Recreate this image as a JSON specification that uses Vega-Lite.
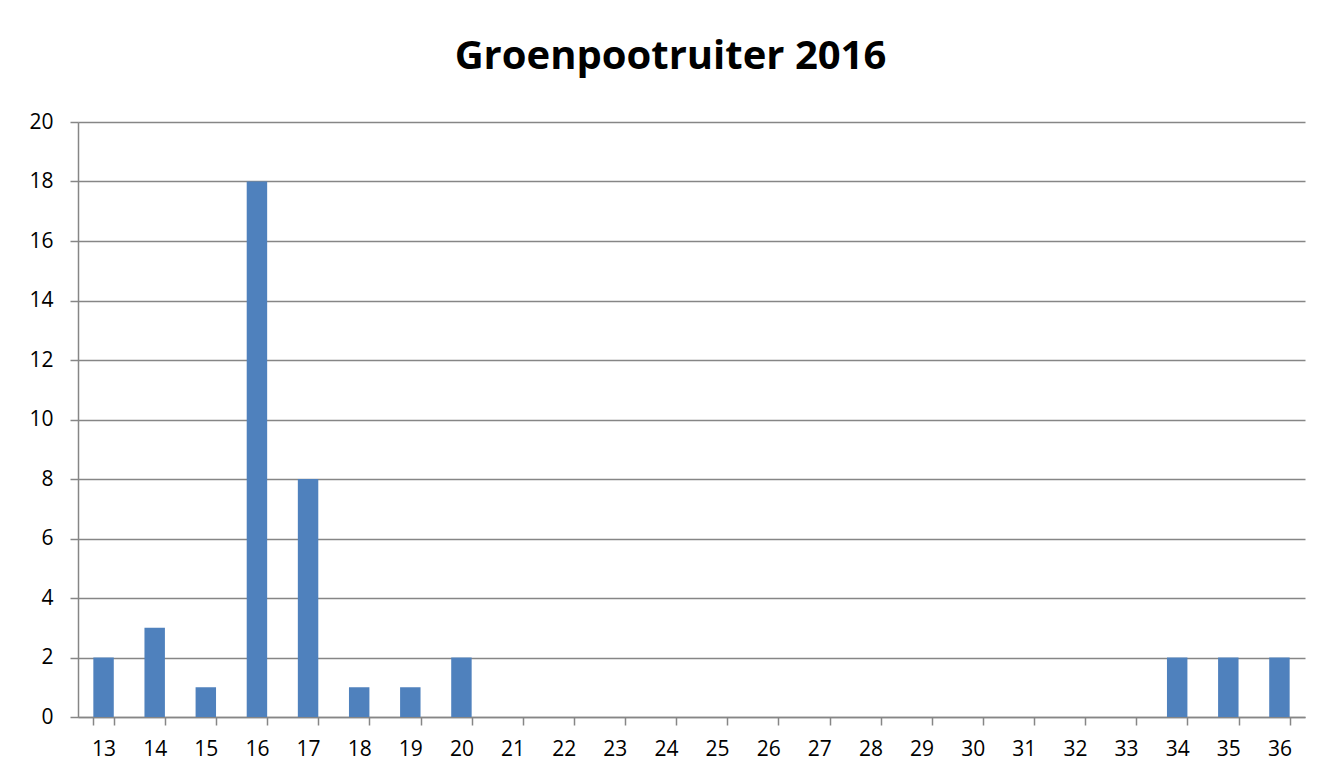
{
  "$schema": "https://vega.github.io/schema/vega-lite/v6.json",
  "width": 1227,
  "height": 595,
  "autosize": {"type": "none"},
  "padding": {"left": 78, "top": 122, "right": 17, "bottom": 61},
  "background": "white",
  "title": {
    "text": "Groenpootruiter 2016",
    "font": "Open Sans",
    "fontSize": 40,
    "fontWeight": "bold",
    "color": "#000000",
    "anchor": "middle",
    "baseline": "alphabetic",
    "offset": 2,
    "dx": -21
  },
  "data": {
    "values": [
      {"week": "13", "count": 2},
      {"week": "14", "count": 3},
      {"week": "15", "count": 1},
      {"week": "16", "count": 18},
      {"week": "17", "count": 8},
      {"week": "18", "count": 1},
      {"week": "19", "count": 1},
      {"week": "20", "count": 2},
      {"week": "21", "count": 0},
      {"week": "22", "count": 0},
      {"week": "23", "count": 0},
      {"week": "24", "count": 0},
      {"week": "25", "count": 0},
      {"week": "26", "count": 0},
      {"week": "27", "count": 0},
      {"week": "28", "count": 0},
      {"week": "29", "count": 0},
      {"week": "30", "count": 0},
      {"week": "31", "count": 0},
      {"week": "32", "count": 0},
      {"week": "33", "count": 0},
      {"week": "34", "count": 2},
      {"week": "35", "count": 2},
      {"week": "36", "count": 2}
    ]
  },
  "mark": {"type": "bar", "color": "#4F81BD"},
  "encoding": {
    "x": {
      "field": "week",
      "type": "ordinal",
      "sort": null,
      "scale": {"paddingInner": 0.6, "paddingOuter": 0.3},
      "axis": {
        "title": null,
        "labelAngle": 0,
        "labelFont": "Open Sans",
        "labelFontSize": 21,
        "labelColor": "#000000",
        "labelPadding": 13,
        "tickBand": "extent",
        "tickSize": 8,
        "tickColor": "#868686",
        "domainColor": "#868686",
        "domainWidth": 1.5,
        "tickWidth": 1.5,
        "grid": false
      }
    },
    "y": {
      "field": "count",
      "type": "quantitative",
      "scale": {"domain": [0, 20]},
      "axis": {
        "title": null,
        "values": [0, 2, 4, 6, 8, 10, 12, 14, 16, 18, 20],
        "labelFont": "Open Sans",
        "labelFontSize": 21,
        "labelColor": "#000000",
        "labelPadding": 17,
        "tickSize": 8,
        "tickColor": "#868686",
        "tickWidth": 1.5,
        "domainColor": "#868686",
        "domainWidth": 1.5,
        "gridColor": "#868686",
        "gridWidth": 1.5
      }
    }
  },
  "config": {"view": {"stroke": null}}
}
